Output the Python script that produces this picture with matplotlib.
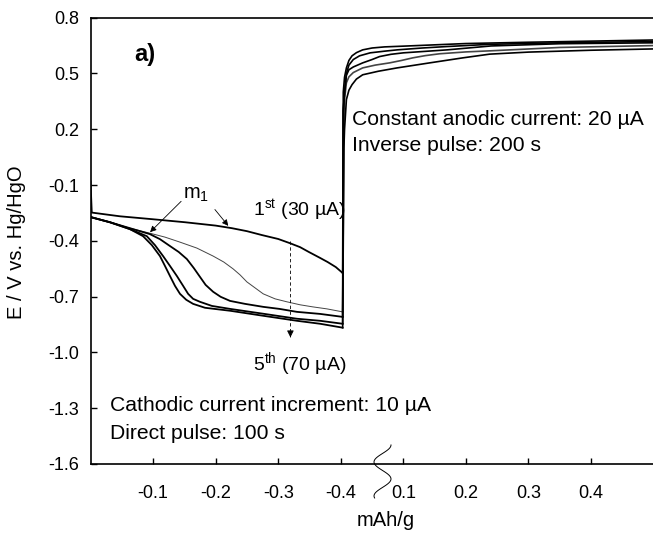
import numpy as np
import matplotlib
matplotlib.use('Agg')
import matplotlib.pyplot as plt

plt.rcParams['font.family'] = ['Liberation Sans', 'DejaVu Sans']
plt.rcParams['mathtext.fontset'] = 'custom'
plt.rcParams['mathtext.rm'] = 'Liberation Sans'
plt.rcParams['mathtext.it'] = 'Liberation Sans:italic'
plt.rcParams['mathtext.bf'] = 'Liberation Sans:bold'

# cathodic (direct) pulses: charge in mAh/g (negative), E in V
q_cat_1 = [0.0, -0.002, -0.047, -0.1, -0.151, -0.2, -0.226, -0.25, -0.274, -0.3, -0.319, -0.335,
           -0.349, -0.367, -0.379, -0.392, -0.403]
e_cat_1 = [-0.08, -0.248, -0.268, -0.284, -0.3, -0.318, -0.332, -0.348, -0.369, -0.39, -0.413, -0.434,
           -0.46, -0.492, -0.514, -0.541, -0.573]
q_cat_2 = [-0.001, -0.031, -0.063, -0.095, -0.119, -0.143, -0.17, -0.196, -0.213, -0.228, -0.239,
           -0.25, -0.263, -0.276, -0.295, -0.314, -0.335, -0.355, -0.378, -0.403]
e_cat_2 = [-0.273, -0.3, -0.332, -0.359, -0.38, -0.407, -0.439, -0.482, -0.514, -0.551, -0.583,
           -0.621, -0.653, -0.685, -0.712, -0.728, -0.744, -0.755, -0.766, -0.782]
q_cat_3 = [-0.001, -0.031, -0.063, -0.095, -0.111, -0.127, -0.141, -0.154, -0.165, -0.175, -0.184,
           -0.196, -0.208, -0.223, -0.247, -0.276, -0.302, -0.33, -0.367, -0.403]
e_cat_3 = [-0.273, -0.3, -0.332, -0.364, -0.391, -0.428, -0.46, -0.498, -0.546, -0.594, -0.637,
           -0.674, -0.701, -0.723, -0.739, -0.755, -0.766, -0.782, -0.793, -0.809]
q_cat_4 = [-0.001, -0.031, -0.063, -0.09, -0.103, -0.116, -0.127, -0.138, -0.148, -0.156, -0.164,
           -0.175, -0.194, -0.223, -0.276, -0.33, -0.367, -0.403]
e_cat_4 = [-0.273, -0.3, -0.337, -0.375, -0.423, -0.482, -0.535, -0.589, -0.642, -0.685, -0.712,
           -0.728, -0.75, -0.766, -0.792, -0.819, -0.83, -0.846]
q_cat_5 = [-0.001, -0.031, -0.063, -0.084, -0.098, -0.111, -0.119, -0.127, -0.135, -0.143, -0.153,
           -0.164, -0.183, -0.223, -0.276, -0.33, -0.367, -0.403]
e_cat_5 = [-0.273, -0.3, -0.337, -0.375, -0.423, -0.482, -0.535, -0.589, -0.642, -0.685, -0.717,
           -0.739, -0.76, -0.776, -0.803, -0.83, -0.846, -0.867]

# anodic (inverse) pulses, charge counted from the break
q_an_1 = [0.003, 0.004, 0.006, 0.009, 0.013, 0.018, 0.025, 0.035, 0.05, 0.07, 0.1, 0.15, 0.2, 0.3, 0.4, 0.499]
e_an_1 = [-0.573, 0.40, 0.48, 0.53, 0.57, 0.595, 0.612, 0.627, 0.637, 0.643, 0.647, 0.654, 0.661, 0.668, 0.674, 0.68]
q_an_2 = [0.003, 0.005, 0.006, 0.009, 0.013, 0.02, 0.035, 0.055, 0.078, 0.097, 0.115, 0.135, 0.158, 0.2,
          0.24, 0.35, 0.499]
e_an_2 = [-0.782, 0.20, 0.36, 0.45, 0.482, 0.505, 0.53, 0.545, 0.557, 0.57, 0.584, 0.596, 0.606, 0.616,
          0.622, 0.64, 0.65]
q_an_3 = [0.003, 0.004, 0.006, 0.009, 0.013, 0.02, 0.03, 0.047, 0.07, 0.09, 0.13, 0.17, 0.24, 0.35, 0.499]
e_an_3 = [-0.809, 0.30, 0.40, 0.50, 0.545, 0.575, 0.595, 0.611, 0.62, 0.627, 0.637, 0.645, 0.657, 0.665, 0.672]
q_an_4 = [0.003, 0.004, 0.006, 0.009, 0.013, 0.02, 0.035, 0.05, 0.062, 0.08, 0.1, 0.17, 0.24, 0.35, 0.499]
e_an_4 = [-0.846, 0.30, 0.40, 0.49, 0.52, 0.535, 0.557, 0.575, 0.591, 0.603, 0.611, 0.627, 0.648, 0.66, 0.665]
q_an_5 = [0.003, 0.005, 0.006, 0.009, 0.013, 0.018, 0.025, 0.035, 0.06, 0.09, 0.142, 0.195, 0.238, 0.3,
          0.4, 0.499]
e_an_5 = [-0.867, 0.10, 0.20, 0.36, 0.41, 0.44, 0.47, 0.493, 0.512, 0.53, 0.557, 0.584, 0.604, 0.615,
          0.625, 0.632]

cat_ticks = [-0.1, -0.2, -0.3, -0.4]
an_ticks = [0.1, 0.2, 0.3, 0.4]
y_ticks = [0.8, 0.5, 0.2, -0.1, -0.4, -0.7, -1.0, -1.3, -1.6]

OFFSET = 0.4  # anodic zero sits at the -0.4 position

fig = plt.figure(figsize=(6.53, 5.33), dpi=100)
ax = fig.add_axes([0.1386, 0.1295, 1 - 0.1386, 0.8373])

cat = [(q_cat_1, e_cat_1), (q_cat_2, e_cat_2), (q_cat_3, e_cat_3), (q_cat_4, e_cat_4), (q_cat_5, e_cat_5)]
an = [(q_an_1, e_an_1), (q_an_2, e_an_2), (q_an_3, e_an_3), (q_an_4, e_an_4), (q_an_5, e_an_5)]
widths = [1.3, 0.7, 1.3, 1.3, 1.3]
colors = ['k', '#444444', 'k', 'k', 'k']
for (qc, ec), (qa, ea), lw, c in zip(cat, an, widths, colors):
    ax.plot(-np.array(qc), ec, color=c, lw=lw)
    ax.plot(OFFSET + np.array(qa), ea, color=c, lw=1.2)

ax.set_xlim(0, 0.899)
ax.set_ylim(-1.6, 0.8)
xt = [-v for v in cat_ticks] + [OFFSET + v for v in an_ticks]
ax.set_xticks(xt)
ax.set_xticklabels(['%.1f' % v for v in cat_ticks + an_ticks])
ax.set_yticks(y_ticks)
ax.set_yticklabels(['%.1f' % v for v in y_ticks])
ax.tick_params(axis='x', direction='in', length=4, width=1, labelsize=13, pad=15)
ax.tick_params(axis='y', direction='in', length=4, width=1, labelsize=13, pad=8)
ax.spines['right'].set_visible(False)
for s in ['left', 'bottom', 'top']:
    ax.spines[s].set_linewidth(1.2)

# break mark on x axis
t = np.linspace(0, 1, 60)
bx = (382.5 + 8.5 * np.cos(2 * np.pi * 1.56 * t) - 90.5) / (653 - 90.5)
by = (464 - (445 + 53 * t)) / (464 - 17.7)
ax.plot(bx, by, color='k', lw=0.7, transform=ax.transAxes, clip_on=False)

fs = 15.2
ax.text(0.087, 0.60, 'a)', fontsize=17, fontweight='bold', ha='center', va='center')
ax.text(0.169, -0.151, r'm$_{\mathrm{1}}$', fontsize=14.5, ha='center', va='center')
ax.annotate('', xy=(0.092, -0.364), xytext=(0.148, -0.177),
            arrowprops=dict(arrowstyle='-|>', lw=0.6, color='k', mutation_scale=9))
ax.annotate('', xy=(0.223, -0.331), xytext=(0.196, -0.22),
            arrowprops=dict(arrowstyle='-|>', lw=0.6, color='k', mutation_scale=9))
ax.text(0.259, -0.237, r'1$^{\mathrm{st}}$ (30 µA)', fontsize=14, ha='left', va='center')

ax.plot([0.3195, 0.3195], [-0.40, -0.90], color='k', lw=0.6, ls=(0, (4, 3)))
ax.annotate('', xy=(0.3195, -0.934), xytext=(0.3195, -0.90),
            arrowprops=dict(arrowstyle='-|>', lw=0.6, color='k', mutation_scale=10))
ax.text(0.259, -1.06, r'5$^{\mathrm{th}}$ (70 µA)', fontsize=14, ha='left', va='center')

ax.text(0.418, 0.252, 'Constant anodic current: 20 µA', fontsize=fs, ha='left', va='center')
ax.text(0.418, 0.113, 'Inverse pulse: 200 s', fontsize=fs, ha='left', va='center')
ax.text(0.031, -1.285, 'Cathodic current increment: 10 µA', fontsize=fs, ha='left', va='center')
ax.text(0.031, -1.435, 'Direct pulse: 100 s', fontsize=fs, ha='left', va='center')

fig.text(386 / 653, 1 - 521 / 533, 'mAh/g', fontsize=14.5, ha='center', va='center')
fig.text(17 / 653, 1 - 242 / 533, 'E / V vs. Hg/HgO', fontsize=14.5, ha='center', va='center', rotation=90)

fig.savefig('out.png', dpi=100)
